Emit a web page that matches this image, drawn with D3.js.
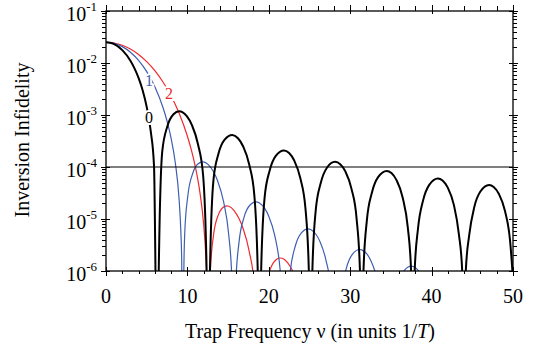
<!DOCTYPE html>
<html><head><meta charset="utf-8">
<script src="https://cdn.jsdelivr.net/npm/d3@7"></script>
<style>
html,body{margin:0;padding:0;background:#fff;}
svg{display:block;}
svg text{font-family:"Liberation Serif","Times New Roman",Times,serif;}
</style></head>
<body>
<svg id="chart" width="535" height="353" font-family="Liberation Serif, Times New Roman, serif"></svg>
<script>
// ---- data ----
const xTickValues = [0, 10, 20, 30, 40, 50];
const yTickExponents = [-1, -2, -3, -4, -5, -6];
const thresholdValue = 1e-4;

// order 0 (black)
const series0 = [
[0,0.025],[0.5,0.0245],[1,0.0230],[2,0.0177],[3,0.01106],[3.5,7.9e-3],[4,5.17e-3],[4.5,2.99e-3],[5,1.43e-3],[5.5,4.82e-4],[5.9,1.04e-4],[6.08,1.0e-6],[6.283,1e-9],
[6.48,1.0e-6],[6.912,2.0e-4],[7.540,6.08e-4],[8.294,1.036e-3],[8.985,1.18e-3],[9.425,1.126e-3],[9.927,9.52e-4],[10.556,6.40e-4],[11.310,2.70e-4],[11.938,6.70e-5],[12.36,1.0e-6],[12.566,1e-9],
[12.77,1.0e-6],[13.195,5.48e-5],[13.823,1.81e-4],[14.577,3.35e-4],[15.519,4.12e-4],[16.211,3.57e-4],[16.839,2.51e-4],[17.593,1.116e-4],[18.221,2.88e-5],[18.64,1.0e-6],[18.850,1e-9],
[19.06,1.0e-6],[19.478,2.52e-5],[20.106,8.55e-5],[20.860,1.638e-4],[21.865,2.08e-4],[22.494,1.854e-4],[23.122,1.333e-4],[23.876,6.06e-5],[24.504,1.59e-5],[24.92,1.0e-6],[25.133,1e-9],
[25.35,1.0e-6],[25.761,1.44e-5],[26.389,4.96e-5],[27.143,9.68e-5],[28.148,1.257e-4],[28.777,1.133e-4],[29.405,8.24e-5],[30.159,3.80e-5],[30.788,1.007e-5],[31.20,1.0e-6],[31.416,1e-9],
[31.63,1.0e-6],[32.044,9.30e-6],[32.673,3.24e-5],[33.427,6.38e-5],[34.495,8.40e-5],[35.060,7.63e-5],[35.688,5.60e-5],[36.442,2.60e-5],[37.071,6.95e-6],[37.48,1.0e-6],[37.699,1e-9],
[37.92,1.0e-6],[38.327,6.50e-6],[38.956,2.28e-5],[39.710,4.52e-5],[40.778,6.01e-5],[41.343,5.49e-5],[41.972,4.05e-5],[42.726,1.89e-5],[43.354,5.08e-6],[43.76,1.0e-6],[43.982,1e-9],
[44.20,1.0e-6],[44.611,4.80e-6],[45.239,1.69e-5],[45.993,3.37e-5],[47.061,4.51e-5],[47.627,4.14e-5],[48.255,3.06e-5],[49.009,1.44e-5],[49.637,3.88e-6],[50,6.9e-7]
];

// order 1 (blue)
const series1 = [
[0,0.025],[1,0.02384],[2,0.02063],[3,0.01611],[4,0.01122],[5,6.83e-3],[6,3.50e-3],[7,1.395e-3],[7.5,7.62e-4],[8,3.55e-4],[8.5,1.248e-4],[9,2.14e-5],[9.2,5.48e-6],[9.3,1.61e-6],[9.425,1e-9],
[9.55,7.0e-7],[9.676,5.45e-6],[10.053,2.80e-5],[10.681,7.75e-5],[11.435,1.188e-4],[11.938,1.252e-4],[12.566,1.111e-4],[13.195,8.17e-5],[13.697,5.49e-5],[14.451,2.125e-5],[15.080,4.91e-6],[15.457,7.3e-7],[15.708,1e-9],
[15.771,4.2e-8],[15.959,6.38e-7],[16.336,3.52e-6],[16.965,1.089e-5],[17.719,1.878e-5],[18.410,2.142e-5],[18.850,2.04e-5],[19.478,1.613e-5],[19.981,1.145e-5],[20.735,4.77e-6],[21.363,1.166e-6],[21.740,1.79e-7],[21.991,1e-9],
[22.242,1.63e-7],[22.619,9.24e-7],[23.248,2.99e-6],[24.002,5.41e-6],[24.819,6.47e-6],[25.133,6.30e-6],[25.761,5.15e-6],[26.264,3.755e-6],[27.018,1.62e-6],[27.646,4.09e-7],[28.274,1e-9],
[28.903,3.41e-7],[29.531,1.132e-6],[30.285,2.109e-6],[31.165,2.593e-6],[31.416,2.551e-6],[32.044,2.13e-6],[32.547,1.576e-6],[33.301,6.97e-7],[33.929,1.79e-7],[34.558,1e-9],
[35.814,5.19e-7],[36.568,9.85e-7],[37.071,1.183e-6],[37.511,1.236e-6],[38.013,1.153e-6],[38.830,7.74e-7],[39.584,3.47e-7],[40.841,1e-9],
[44.0,6.5e-7],[47.124,1e-9],[50,4.3e-7]
];

// order 2 (red)
const series2 = [
[0,0.025],[1,0.02420],[2,0.02192],[3,0.01855],[4,0.01461],[5,0.01065],[6,7.13e-3],[7,4.32e-3],[8,2.32e-3],[9,1.067e-3],[10,3.91e-4],[10.5,2.08e-4],[11,9.65e-5],[11.5,3.54e-5],[12,7.73e-6],[12.3,1.45e-6],[12.4,5.36e-7],[12.566,1e-9],
[12.70,3.0e-7],[12.818,9.57e-7],[13.195,4.72e-6],[13.823,1.226e-5],[14.577,1.747e-5],[14.828,1.783e-5],[15.080,1.755e-5],[15.708,1.470e-5],[16.336,1.02e-5],[16.839,6.58e-6],[17.593,2.386e-6],[18.221,5.24e-7],[18.850,1e-9],
[19.478,3.40e-7],[20.106,1.001e-6],[20.860,1.631e-6],[21.363,1.777e-6],[21.614,1.760e-6],[21.991,1.634e-6],[22.619,1.236e-6],[23.122,8.48e-7],[23.876,3.36e-7],[25.133,1e-9],
[28.5,3.5e-7],[31.416,1e-9],[34.5,1.6e-7],[37.699,1e-9],[41,8e-8],[43.982,1e-9],[47,4.5e-8],[50,1e-9]
];

const seriesNames = ["0", "1", "2"];
const seriesColors = ["#000000", "#3e5fb0", "#ee2a2e"];
// where each curve label sits: [nu, value]
const labelAnchors = [[5.28, 9.1e-4], [5.28, 4.7e-3], [7.74, 2.6e-3]];

// ---- drawing ----
const FONT = "Liberation Serif, Times New Roman, serif";
const svg = d3.select("#chart");
const L = 106, R = 513, T = 11, B = 271;
const x = d3.scaleLinear().domain([0, 50]).range([L, R]);
const y = d3.scaleLog().domain([1e-6, 1e-1]).range([B, T]);

svg.append("defs").append("clipPath").attr("id", "clip")
  .append("rect").attr("x", L).attr("y", T).attr("width", R - L).attr("height", B - T);

const plot = svg.append("g").attr("clip-path", "url(#clip)");
const line = d3.line().x(d => x(d[0])).y(d => y(d[1])).curve(d3.curveMonotoneX);

const allSeries = [series0, series1, series2];
const drawOrder = [2, 1, 0];
drawOrder.forEach(i => {
  plot.append("path").datum(allSeries[i])
    .attr("fill", "none")
    .attr("stroke", seriesColors[i])
    .attr("stroke-width", i === 0 ? 2 : 1.2)
    .attr("stroke-linejoin", "round")
    .attr("d", line);
});

// threshold line
plot.append("line")
  .attr("x1", L).attr("x2", R)
  .attr("y1", y(thresholdValue)).attr("y2", y(thresholdValue))
  .attr("stroke", "#000").attr("stroke-width", 1.2);

// curve labels with white halo
labelAnchors.forEach((a, i) => {
  svg.append("text")
    .attr("x", x(a[0])).attr("y", y(a[1]))
    .attr("text-anchor", "middle").attr("dominant-baseline", "central")
    .attr("font-family", FONT).attr("font-size", 16)
    .attr("fill", seriesColors[i])
    .attr("stroke", "#fff").attr("stroke-width", 4).attr("paint-order", "stroke")
    .text(seriesNames[i]);
});

// frame
svg.append("rect").attr("x", L).attr("y", T).attr("width", R - L).attr("height", B - T)
  .attr("fill", "none").attr("stroke", "#000").attr("stroke-width", 1.3);

const tickG = svg.append("g").attr("stroke", "#000").attr("stroke-width", 1);

// y ticks (major + minor) from the log scale
y.ticks().forEach(v => {
  const isMajor = Math.abs(Math.log10(v) - Math.round(Math.log10(v))) < 1e-9;
  const py = Math.round(y(v)) + 0.5;
  if (isMajor) {
    tickG.append("line").attr("x1", L - 5).attr("x2", L + 4).attr("y1", py).attr("y2", py);
    tickG.append("line").attr("x1", R - 4).attr("x2", R + 5).attr("y1", py).attr("y2", py);
  } else {
    tickG.append("line").attr("x1", L - 4).attr("x2", L).attr("y1", py).attr("y2", py);
    tickG.append("line").attr("x1", R).attr("x2", R + 4).attr("y1", py).attr("y2", py);
  }
});

// x ticks
x.ticks(25).forEach(v => {
  const isMajor = xTickValues.includes(v);
  const px = Math.round(x(v)) + 0.5;
  if (isMajor) {
    tickG.append("line").attr("x1", px).attr("x2", px).attr("y1", B - 4).attr("y2", B + 5);
    tickG.append("line").attr("x1", px).attr("x2", px).attr("y1", T - 6).attr("y2", T + 3);
  } else {
    tickG.append("line").attr("x1", px).attr("x2", px).attr("y1", B).attr("y2", B + 3);
    tickG.append("line").attr("x1", px).attr("x2", px).attr("y1", T - 5).attr("y2", T);
  }
});

// x tick labels
xTickValues.forEach(v => {
  svg.append("text").attr("x", x(v)).attr("y", 303)
    .attr("text-anchor", "middle").attr("font-family", FONT).attr("font-size", 20).text(v);
});

// y tick labels: 10^k
yTickExponents.forEach(k => {
  const t = svg.append("text").attr("x", 97).attr("y", y(Math.pow(10, k)) + 10)
    .attr("text-anchor", "end").attr("font-family", FONT).attr("font-size", 20);
  t.append("tspan").text("10");
  t.append("tspan").attr("font-size", 13).attr("dy", -10).text(String(k));
});

// axis titles
const xt = svg.append("text").attr("x", 310).attr("y", 338)
  .attr("text-anchor", "middle").attr("font-family", FONT).attr("font-size", 20);
xt.append("tspan").text("Trap Frequency ν (in units 1/");
xt.append("tspan").attr("font-style", "italic").text("T");
xt.append("tspan").text(")");

svg.append("text")
  .attr("transform", "translate(29,140) rotate(-90)")
  .attr("text-anchor", "middle").attr("font-family", FONT).attr("font-size", 20)
  .text("Inversion Infidelity");
</script>
</body></html>
